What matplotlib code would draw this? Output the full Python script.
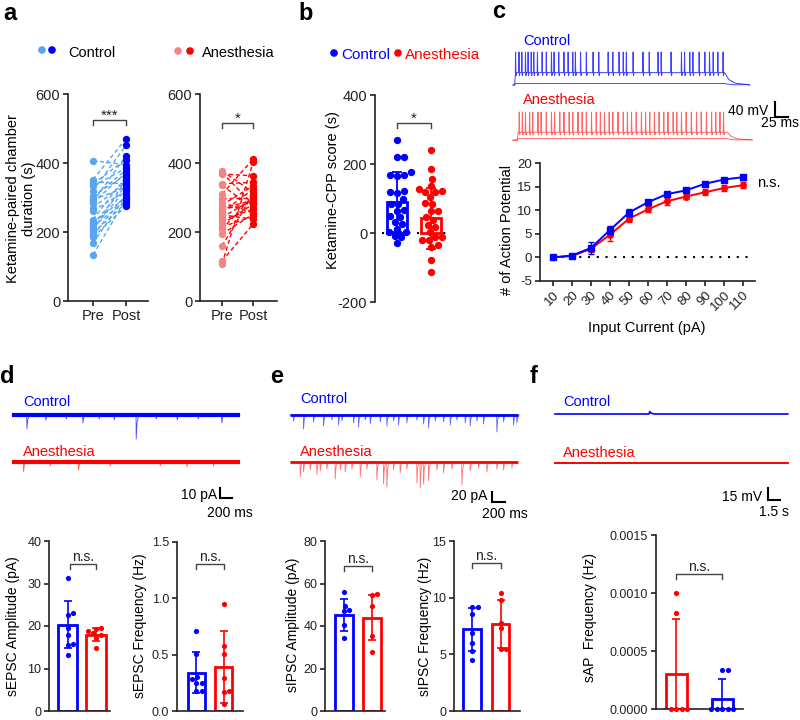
import numpy as np
import matplotlib
matplotlib.use('Agg')
import matplotlib.pyplot as plt

plt.rcParams['font.family'] = ['Liberation Sans', 'DejaVu Sans']
plt.rcParams['font.size'] = 10
plt.rcParams['axes.unicode_minus'] = False

BLUE = '#0000ff'
RED = '#ff0000'
LBLUE = '#5aa5f2'
LRED = '#f48484'
INK = '#222222'

# ---------------- data ----------------
# a: Ketamine-paired chamber duration (s), paired Pre / Post
ctrl_pre = [407, 352, 345, 340, 333, 320, 305, 293, 288, 285, 270, 262,
            236, 228, 222, 216, 210, 205, 197, 190, 185, 168, 134, 300]
ctrl_post = [395, 470, 340, 410, 385, 451, 365, 330, 420, 372, 345, 318,
             360, 300, 335, 290, 325, 352, 284, 310, 275, 305, 295, 380]
anes_pre = [377, 372, 368, 340, 335, 310, 300, 286, 278, 271, 257, 250,
            242, 235, 223, 215, 208, 194, 160, 116, 108, 265]
anes_post = [315, 280, 363, 344, 270, 411, 300, 255, 334, 290, 324, 237,
             296, 266, 281, 245, 305, 252, 310, 223, 402, 285]

# b: Ketamine-CPP score (s)
cpp_ctrl = [270, 221, 219, 176, 169, 169, 166, 121, 118, 115, 99, 85, 85,
            67, 65, 48, 46, 32, 27, 13, 3, 3, -10, -13, -29]
cpp_anes = [240, 185, 157, 137, 128, 123, 118, 118, 104, 87, 85, 65, 65,
            46, 37, 22, 17, 3, -12, -12, -21, -21, -36, -40, -79, -113]
cpp_mean = [90, 43]
cpp_sd = [87, 88]

# c: number of action potentials vs input current
currents = ['10', '20', '30', '40', '50', '60', '70', '80', '90', '100', '110']
ap_ctrl = [0, 0.4, 2.0, 5.8, 9.5, 11.7, 13.4, 14.2, 15.6, 16.5, 17.0]
ap_ctrl_err = [0.1, 0.2, 1.2, 0.9, 0.8, 0.5, 0.4, 0.4, 0.3, 0.4, 0.5]
ap_anes = [0, 0.3, 1.8, 4.8, 8.2, 10.2, 11.9, 12.9, 13.8, 14.7, 15.3]
ap_anes_err = [0.1, 0.2, 0.6, 1.3, 0.8, 0.6, 0.7, 0.6, 0.6, 0.6, 0.6]

# c: example sweeps, spike times (ms)
spk_ctrl = [5, 11.5, 17, 24, 29, 35, 40, 47, 56, 64, 74, 79, 88, 98, 106,
            115, 120, 130, 141, 154, 165, 183, 192, 204, 212, 218, 231, 250,
            262, 279, 285, 304, 324, 330, 340, 346, 358, 369, 378, 385, 394, 404]
spk_anes = [12, 18, 24, 32, 38, 48, 54, 64, 74, 80, 90, 98, 108, 115, 125,
            133, 141, 151, 160, 168, 176, 185, 192, 202, 212, 220, 228, 237,
            247, 255, 263, 272, 281, 290, 298, 308, 315, 324, 333, 343, 353,
            362, 372, 382, 390, 398, 405]

# d: sEPSC example events (ms, pA)
d_ctrl_events = [(245, 14), (560, 5), (900, 4), (1178, 8), (1450, 4), (1700, 5),
                 (2067, 24), (2400, 4), (2750, 5), (3100, 4), (3494, 8)]
d_anes_events = [(189, 10), (633, 4), (1106, 8), (1633, 4), (2467, 4),
                 (2911, 5), (3356, 4)]
sepsc_amp_ctrl = [31.3, 23.0, 22.5, 19.5, 18.0, 15.8, 15.5, 13.1]
sepsc_amp_anes = [19.6, 19.4, 18.8, 18.3, 17.8, 17.2, 14.8]
sepsc_amp_mean = [20.3, 18.0]
sepsc_amp_sd = [5.5, 1.5]
sepsc_freq_ctrl = [0.71, 0.51, 0.30, 0.28, 0.25, 0.25, 0.18, 0.18]
sepsc_freq_anes = [0.95, 0.58, 0.51, 0.29, 0.18, 0.17, 0.06]
sepsc_freq_mean = [0.34, 0.39]
sepsc_freq_sd = [0.18, 0.32]

# e: sIPSC example events (ms, pA)
e_ctrl_t = [51, 205, 359, 513, 641, 744, 795, 974, 1051, 1154, 1231, 1385, 1487,
            1590, 1667, 1795, 1949, 2051, 2128, 2231, 2359, 2462, 2564, 2692,
            2769, 2872, 2974, 3179, 3282, 3436, 3487]
e_ctrl_a = [12, 28, 14, 22, 10, 20, 12, 16, 24, 10, 18, 14, 22, 12, 20, 16, 10,
            18, 26, 12, 14, 20, 10, 16, 22, 12, 18, 34, 14, 20, 16]
e_anes_t = [154, 205, 308, 410, 462, 564, 692, 769, 846, 949, 1077, 1179, 1333,
            1436, 1487, 1590, 1692, 1795, 1949, 2000, 2051, 2128, 2256, 2359,
            2487, 2641, 2769, 2897, 3026, 3179, 3282, 3410]
e_anes_a = [30, 20, 15, 25, 18, 14, 34, 16, 20, 14, 30, 14, 36, 44, 50, 16, 22,
            14, 42, 52, 44, 38, 16, 22, 14, 46, 18, 12, 20, 14, 16, 12]
sipsc_amp_ctrl = [56.0, 49.5, 47.5, 47.0, 40.5, 34.5]
sipsc_amp_anes = [55.0, 54.5, 49.5, 35.5, 27.7]
sipsc_amp_mean = [45.0, 44.0]
sipsc_amp_sd = [7.5, 10.5]
sipsc_freq_ctrl = [9.2, 9.2, 8.6, 6.9, 6.0, 5.3, 4.5]
sipsc_freq_anes = [10.4, 9.8, 7.8, 7.3, 5.5, 5.5]
sipsc_freq_mean = [7.2, 7.7]
sipsc_freq_sd = [1.9, 2.1]

# f: spontaneous AP
f_ctrl_events = [(11.75, 3)]
f_anes_events = []
sap_anes = [0.0010, 0.00083, 0, 0, 0, 0]
sap_ctrl = [0.000333, 0.000333, 0, 0, 0, 0, 0]
sap_mean = [0.0003, 0.00009]
sap_sd = [0.00048, 0.00017]

# ---------------- helpers ----------------
W, H = 800, 720
fig = plt.figure(figsize=(8, 7.2), dpi=100)


def px_axes(x0, x1, y0, y1):
    return fig.add_axes([x0 / W, 1 - y1 / H, (x1 - x0) / W, (y1 - y0) / H])


def style(ax, xticks=True):
    for s in ['top', 'right']:
        ax.spines[s].set_visible(False)
    for s in ['left', 'bottom']:
        ax.spines[s].set_linewidth(1.2)
        ax.spines[s].set_color(INK)
    ax.tick_params(axis='y', length=3.6, width=1.2, pad=2, colors=INK)
    if xticks:
        ax.tick_params(axis='x', length=3.6, width=1.2, pad=2, colors=INK)
    else:
        ax.set_xticks([])


def swarm(ax, xc, vals, dpx):
    T = ax.transData
    x0 = T.transform((xc, 0))[0]
    placed = []
    out = [0.0] * len(vals)
    for i in np.argsort(vals):
        py = T.transform((xc, vals[i]))[1]
        cands = [0.0]
        for qx, qy in placed:
            dy = abs(py - qy)
            if dy < dpx:
                dx = np.sqrt(dpx ** 2 - dy ** 2)
                cands += [qx + dx, qx - dx]
        cands.sort(key=abs)
        for c in cands:
            if all((c - qx) ** 2 + (py - qy) ** 2 >= dpx ** 2 - 1e-6 for qx, qy in placed):
                break
        placed.append((c, py))
        out[i] = T.inverted().transform((x0 + c, py))[0]
    return out


def bracket(ax, x0, x1, ypx, text, hpx=4.5, off=1.5, size=10):
    inv = ax.transData.inverted()
    y = inv.transform((0, H - ypx))[1]
    h = y - inv.transform((0, H - ypx - hpx))[1]
    ax.plot([x0, x0, x1, x1], [y - h, y, y, y - h], color='#444444', lw=1, clip_on=False)
    ax.annotate(text, xy=((x0 + x1) / 2, y), xytext=(0, off), textcoords='offset points',
                ha='center', va='baseline', fontsize=size, color=INK)


def bar_panel(box, xlim, ylim, yticks, fmt, groups, means, sds, colors, width):
    ax = px_axes(*box)
    ax.set_xlim(*xlim)
    ax.set_ylim(*ylim)
    style(ax, xticks=False)
    for i, (vals, m, sd, c) in enumerate(zip(groups, means, sds, colors)):
        ax.bar(i, m, width=width, facecolor='white', edgecolor=c, lw=2, zorder=1)
        ax.errorbar(i, m, yerr=sd, color=c, capsize=3, elinewidth=1.2, capthick=1.2, zorder=2)
        xs = swarm(ax, i, vals, 5.5)
        ax.scatter(xs, vals, s=14, color=c, zorder=3, linewidths=0, clip_on=False)
    ax.set_yticks(yticks)
    ax.set_yticklabels([fmt % v for v in yticks], fontsize=9)
    return ax


def spike_sweep(spikes, t_on, t_off, t_end, rest, plateau, peak, ahp):
    t = [0, t_on, t_on + 2]
    v = [rest, rest, plateau]
    for s in spikes:
        t += [s - 0.6, s, s + 0.8, s + 2.0]
        v += [plateau, peak, ahp, plateau]
    t += [t_off, t_off + 8, t_off + 20, t_off + 45, t_end]
    v += [plateau, rest + (plateau - rest) * 0.45, rest + (plateau - rest) * 0.15, rest + 1, rest]
    return np.array(t), np.array(v)


def event_sweep(events, t_end, rise, decay, sign=-1):
    t, v = [0], [0]
    for s, a in events:
        t += [s, s + rise, s + rise + decay, s + rise + 3 * decay]
        v += [0, sign * a, sign * a * 0.3, 0]
    t.append(t_end)
    v.append(0)
    return np.array(t), np.array(v)


def scalebar(ax, x, y, dx, dy):
    ax.plot([x, x, x + dx], [y + dy, y, y], color='k', lw=1.5, clip_on=False,
            solid_joinstyle='miter')


ov = fig.add_axes([0, 0, 1, 1], zorder=10)
ov.set_xlim(0, W)
ov.set_ylim(H, 0)
ov.axis('off')


def T(x, y, s, **kw):
    kw.setdefault('va', 'baseline')
    ov.text(x, y, s, **kw)


# panel letters
for lab, x, y in [('a', 3, 20), ('b', 298, 20), ('c', 492, 18),
                  ('d', 0, 383), ('e', 270, 383), ('f', 530, 383)]:
    T(x, y, lab, fontsize=17, fontweight='bold')

# ---------------- panel a ----------------
ov.scatter([42, 52], [50, 50], s=30, color=[LBLUE, BLUE], linewidths=0)
T(68, 57, 'Control', fontsize=10.5)
ov.scatter([178, 190], [51, 51], s=30, color=[LRED, RED], linewidths=0)
T(202, 57, 'Anesthesia', fontsize=10.5)

for box, pre, post, lc, pc, star, bpx, xl in [
        ((68, 148, 94, 301), ctrl_pre, ctrl_post, LBLUE, BLUE, '***', 120, (-0.76, 1.67)),
        ((200, 277, 94, 301), anes_pre, anes_post, RED, RED, '*', 123, (-0.71, 1.77))]:
    ax = px_axes(*box)
    ax.set_ylim(0, 600)
    ax.set_xlim(*xl)
    style(ax)
    for p0, p1 in zip(pre, post):
        ax.plot([0, 1], [p0, p1], color=lc, lw=1, ls=(0, (3, 2)), zorder=1)
    prec = LBLUE if pc == BLUE else LRED
    ax.scatter([0] * len(pre), pre, s=28, color=prec, linewidths=0, zorder=3)
    ax.scatter([1] * len(post), post, s=28, color=pc, linewidths=0, zorder=3)
    ax.set_yticks([0, 200, 400, 600])
    ax.set_xticks([0, 1])
    ax.set_xticklabels(['Pre', 'Post'], fontsize=10.5)
    ax.tick_params(axis='y', labelsize=10.5)
    bracket(ax, 0, 1, bpx, star, hpx=5, off=0.5, size=11)

T(21, 199, 'Ketamine-paired chamber\nduration (s)', rotation=90, ha='center',
  va='center', fontsize=10.5, multialignment='center')

# ---------------- panel b ----------------
ov.scatter([334, 398], [53, 53], s=30, color=[BLUE, RED], linewidths=0)
T(341, 59, 'Control', color=BLUE, fontsize=11)
T(405, 59, 'Anesthesia', color=RED, fontsize=11)

axb = px_axes(375, 455, 95, 302)
axb.set_ylim(-200, 400)
axb.set_xlim(-0.65, 1.7)
style(axb, xticks=False)
axb.spines['bottom'].set_visible(False)
axb.plot([-0.44, 1.5], [0, 0], color='k', lw=1.5, ls=(0, (1, 3.2)), zorder=0)
for i, (vals, c) in enumerate([(cpp_ctrl, BLUE), (cpp_anes, RED)]):
    axb.bar(i, cpp_mean[i], width=0.6, facecolor='white', edgecolor=c, lw=2, zorder=1)
    axb.errorbar(i, cpp_mean[i], yerr=cpp_sd[i], color=c, capsize=3.5,
                 elinewidth=1.3, capthick=1.3, zorder=2)
    xs = swarm(axb, i, vals, 7.0)
    axb.scatter(xs, vals, s=28, color=c, linewidths=0, zorder=3)
axb.set_yticks([-200, 0, 200, 400])
axb.tick_params(axis='y', labelsize=10.5)
bracket(axb, 0, 1, 123, '*', hpx=5, off=0.5, size=11)
T(333, 190, 'Ketamine-CPP score (s)', rotation=90, ha='center', va='center', fontsize=10.5)

# ---------------- panel c ----------------
axt = px_axes(500, 800, 45, 145)
axt.set_xlim(-25, 552)
axt.set_ylim(-230, 36.7)
axt.axis('off')
t, v = spike_sweep([], 3, 407, 455, -70, -66, 0, 0)
axt.plot(t, v, color=BLUE, lw=0.7, alpha=0.7)
t, v = spike_sweep(spk_ctrl, 3, 407, 455, -70, -37, 18, -45)
axt.plot(t, v, color=BLUE, lw=0.7, alpha=0.75)
t, v = spike_sweep([], 8, 412, 460, -70, -66, 0, 0)
axt.plot(t, v - 147, color=RED, lw=0.7, alpha=0.6)
t, v = spike_sweep(spk_anes, 8, 412, 460, -70, -49, 5, -56)
axt.plot(t, v - 147, color=RED, lw=0.7, alpha=0.6)
scalebar(axt, 503.8, -155.3, 25, 40)
T(523, 45, 'Control', color=BLUE, fontsize=10.5)
T(523, 104, 'Anesthesia', color=RED, fontsize=10.5)
T(768, 115, '40 mV', ha='right', fontsize=10)
T(799, 127, '25 ms', ha='right', fontsize=10)

axc = px_axes(540, 755, 163, 281)
axc.set_ylim(-5, 20)
axc.set_xlim(-0.68, 10.63)
style(axc)
idx = np.arange(len(currents))
axc.plot([0, 10.5], [0, 0], color='k', lw=1.5, ls=(0, (1, 3.2)), zorder=0)
axc.errorbar(idx, ap_anes, yerr=ap_anes_err, color=RED, marker='o', ms=4,
             lw=1.4, capsize=2.5, elinewidth=1, capthick=1, zorder=2)
axc.errorbar(idx, ap_ctrl, yerr=ap_ctrl_err, color=BLUE, marker='s', ms=4.3,
             lw=1.4, capsize=2.5, elinewidth=1, capthick=1, zorder=3)
axc.set_yticks([-5, 0, 5, 10, 15, 20])
axc.tick_params(axis='y', labelsize=9.5)
axc.set_xticks(idx)
axc.set_xticklabels(currents, rotation=45, ha='right', rotation_mode='anchor', fontsize=9.5)
T(757, 187, 'n.s.', fontsize=10.5)
T(507, 230, '# of Action Potential', rotation=90, ha='center', va='center', fontsize=10.5)
T(647, 332, 'Input Current (pA)', ha='center', fontsize=10.5)

# ---------------- panel d ----------------
axd = px_axes(0, 270, 380, 520)
axd.set_xlim(-200, 4300)
axd.set_ylim(-105, 35)
axd.axis('off')
axd.plot([0, 3800], [0, 0], color=BLUE, lw=3, solid_capstyle='butt')
t, v = event_sweep(d_ctrl_events, 3800, 3, 15)
axd.plot(t, v, color=BLUE, lw=0.6, alpha=0.7)
axd.plot([0, 3800], [-47, -47], color=RED, lw=3, solid_capstyle='butt')
t, v = event_sweep(d_anes_events, 3800, 3, 15)
axd.plot(t, v - 47, color=RED, lw=0.6, alpha=0.6)
scalebar(axd, 3467, -83, 200, 10)
T(23, 406, 'Control', color=BLUE, fontsize=10.5)
T(23, 456, 'Anesthesia', color=RED, fontsize=10.5)
T(217, 499, '10 pA', ha='right', fontsize=10)
T(253, 517, '200 ms', ha='right', fontsize=10)

ax = bar_panel((49, 110, 541, 711), (-0.65, 1.49), (0, 40), [0, 10, 20, 30, 40], '%d',
               [sepsc_amp_ctrl, sepsc_amp_anes], sepsc_amp_mean, sepsc_amp_sd, [BLUE, RED], 0.67)
bracket(ax, 0.1, 1, 564, 'n.s.', off=2)
T(13, 626, 'sEPSC Amplitude (pA)', rotation=90, ha='center', va='center', fontsize=10)

ax = bar_panel((177, 243, 542, 711), (-0.72, 1.72), (0, 1.5), [0, 0.5, 1.0, 1.5], '%.1f',
               [sepsc_freq_ctrl, sepsc_freq_anes], sepsc_freq_mean, sepsc_freq_sd, [BLUE, RED], 0.63)
bracket(ax, 0, 1, 564, 'n.s.', off=2)
T(140, 626, 'sEPSC Frequency (Hz)', rotation=90, ha='center', va='center', fontsize=10)

# ---------------- panel e ----------------
axe = px_axes(280, 530, 380, 520)
axe.set_xlim(-153.8, 3692)
axe.set_ylim(-210, 70)
axe.axis('off')
axe.plot([0, 3500], [0, 0], color=BLUE, lw=2, solid_capstyle='butt')
t, v = event_sweep(list(zip(e_ctrl_t, e_ctrl_a)), 3500, 3, 12)
axe.plot(t, v, color=BLUE, lw=0.6, alpha=0.6)
axe.plot([0, 3500], [-94, -94], color=RED, lw=2, solid_capstyle='butt')
t, v = event_sweep(list(zip(e_anes_t, e_anes_a)), 3500, 3, 12)
axe.plot(t, v - 94, color=RED, lw=0.6, alpha=0.55)
scalebar(axe, 3108, -174, 200, 20)
T(300, 403, 'Control', color=BLUE, fontsize=10.5)
T(300, 456, 'Anesthesia', color=RED, fontsize=10.5)
T(487, 500, '20 pA', ha='right', fontsize=10)
T(528, 518, '200 ms', ha='right', fontsize=10)

ax = bar_panel((325, 385, 541, 711), (-0.68, 1.46), (0, 80), [0, 20, 40, 60, 80], '%d',
               [sipsc_amp_ctrl, sipsc_amp_anes], sipsc_amp_mean, sipsc_amp_sd, [BLUE, RED], 0.64)
bracket(ax, 0, 1, 566, 'n.s.', off=2)
T(293, 625, 'sIPSC Amplitude (pA)', rotation=90, ha='center', va='center', fontsize=10)

ax = bar_panel((454, 520, 541, 711), (-0.63, 1.68), (0, 15), [0, 5, 10, 15], '%d',
               [sipsc_freq_ctrl, sipsc_freq_anes], sipsc_freq_mean, sipsc_freq_sd, [BLUE, RED], 0.62)
bracket(ax, 0, 1, 563, 'n.s.', off=2)
T(425, 626, 'sIPSC Frequency (Hz)', rotation=90, ha='center', va='center', fontsize=10)

# ---------------- panel f ----------------
axf = px_axes(545, 800, 380, 520)
axf.set_xlim(-1.25, 30.625)
axf.set_ylim(-132.5, 42.5)
axf.axis('off')
t, v = event_sweep(f_ctrl_events, 29.1, 0.1, 0.2, sign=1)
axf.plot(t, v, color=BLUE, lw=1.2)
t, v = event_sweep(f_anes_events, 29.1, 0.1, 0.2, sign=1)
axf.plot(t, v - 61.25, color=RED, lw=1.4)
scalebar(axf, 26.6, -107.5, 1.5, 15)
T(563, 406, 'Control', color=BLUE, fontsize=10.5)
T(563, 457, 'Anesthesia', color=RED, fontsize=10.5)
T(762, 501, '15 mV', ha='right', fontsize=10)
T(789, 516, '1.5 s', ha='right', fontsize=10)

ax = bar_panel((656, 743, 535, 709), (-0.45, 1.46), (0, 0.0015),
               [0, 0.0005, 0.0010, 0.0015], '%.4f',
               [sap_anes, sap_ctrl], sap_mean, sap_sd, [RED, BLUE], 0.46)
bracket(ax, 0, 1, 574, 'n.s.', off=2)
T(590, 618, 'sAP  Frequency (Hz)', rotation=90, ha='center', va='center', fontsize=10)

fig.savefig('out.png', dpi=100)
